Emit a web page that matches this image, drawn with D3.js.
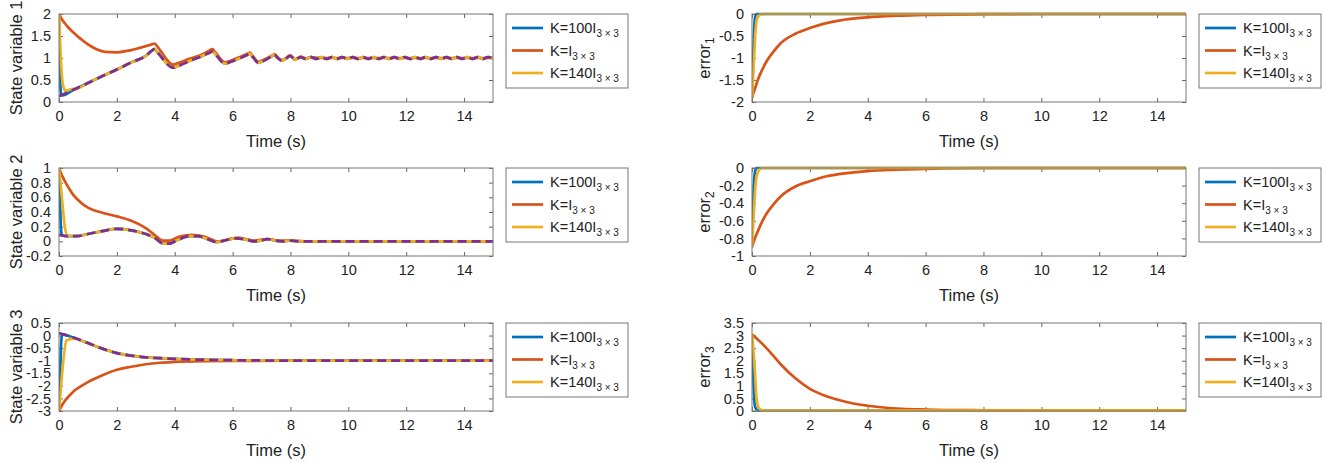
<!DOCTYPE html>
<html>
<head>
<meta charset="utf-8">
<script src="https://cdn.jsdelivr.net/npm/d3@7"></script>
<style>
  body { margin: 0; background: #fff; }
  text { font-family: "Liberation Sans", Arial, sans-serif; fill: #222; }
</style>
</head>
<body>
<div id="chart"></div>
<script>
(function() {
	// time axis
	var xTicks = [0, 2, 4, 6, 8, 10, 12, 14];
	var legendNames = ["K=100I", "K=I", "K=140I"];
	var legendSub = "3 \u00d7 3";

	// ---- state variable 1 ----
	var ref1 = [[0,0.13],[0.5,0.28],[1,0.43],[1.5,0.59],[2,0.74],[2.5,0.9],[3,1.05],[3.2,1.16],[3.3,1.2],[3.4,1.13],[3.95,0.78],[4.05,0.8],[4.5,0.93],[5,1.06],[5.2,1.12],[5.3,1.15],[5.4,1.09],[5.75,0.87],[5.85,0.89],[6.2,0.98],[6.5,1.07],[6.6,1.1],[6.68,1.04],[6.9,0.89],[6.98,0.91],[7.4,1.06],[7.45,1.08],[7.52,1.03],[7.7,0.94],[7.78,0.96],[8,1.05],[8.15,0.96],[8.35,1.02],[8.53,0.98],[8.71,1.02],[8.89,0.98],[9.07,1.02],[9.25,0.98],[9.43,1.02],[9.61,0.98],[9.79,1.02],[9.97,0.98],[10.15,1.02],[10.33,0.98],[10.51,1.02],[10.69,0.98],[10.87,1.02],[11.05,0.98],[11.23,1.02],[11.41,0.98],[11.59,1.02],[11.77,0.98],[11.95,1.02],[12.13,0.98],[12.31,1.02],[12.49,0.98],[12.67,1.02],[12.85,0.98],[13.03,1.02],[13.21,0.98],[13.39,1.02],[13.57,0.98],[13.75,1.02],[13.93,0.98],[14.11,1.02],[14.29,0.98],[14.47,1.02],[14.65,0.98],[14.83,1.02],[15,0.99]];
	var k100_1 = [[0,2],[0.02,1.1],[0.05,0.35],[0.08,0.16],[0.12,0.15],[0.5,0.28]];
	var kI_1 = [[0,2],[0.1,1.88],[0.2,1.79],[0.3,1.71],[0.5,1.58],[0.65,1.49],[0.8,1.41],[1,1.31],[1.15,1.25],[1.3,1.2],[1.6,1.14],[2,1.13],[2.5,1.18],[3,1.27],[3.2,1.31],[3.3,1.33],[3.4,1.26],[3.95,0.85],[4.05,0.87],[4.5,0.98],[5,1.1],[5.2,1.17],[5.3,1.2],[5.4,1.13],[5.75,0.9],[5.85,0.92],[6.2,1.01],[6.5,1.09],[6.6,1.12],[6.68,1.06],[6.9,0.91],[6.98,0.93],[7.4,1.07],[7.45,1.09],[7.52,1.04],[7.7,0.95],[7.78,0.97],[8,1.06],[8.15,0.97],[8.35,1.03],[8.53,0.99],[8.71,1.02],[9,1],[15,1]];
	var k140_1 = [[0,2],[0.05,1.2],[0.1,0.6],[0.15,0.35],[0.22,0.26],[0.5,0.3]];

	// ---- state variable 2 ----
	var ref2 = [[0,0.09],[0.3,0.07],[0.6,0.07],[1,0.1],[1.5,0.14],[2,0.17],[2.5,0.15],[3,0.1],[3.3,0.05],[3.6,-0.03],[3.8,-0.03],[4.1,0.02],[4.5,0.07],[4.8,0.07],[5.2,0.02],[5.45,-0.01],[5.7,0.01],[6.1,0.04],[6.4,0.03],[6.75,0],[6.95,0.01],[7.2,0.03],[7.5,0.01],[7.7,0],[8,0.01],[8.3,0],[15,0]];
	var k100_2 = [[0,1],[0.04,0.45],[0.08,0.12],[0.12,0.08],[0.3,0.07]];
	var kI_2 = [[0,1],[0.1,0.9],[0.2,0.82],[0.35,0.72],[0.5,0.63],[0.75,0.53],[1,0.46],[1.5,0.39],[2,0.34],[2.5,0.28],[3,0.18],[3.3,0.09],[3.6,0.01],[3.8,0.01],[4.2,0.07],[4.6,0.09],[5,0.07],[5.5,0],[6,0.04],[6.2,0.05],[6.7,0.01],[7.2,0.03],[7.6,0.01],[8,0.01],[8.5,0],[15,0]];
	var k140_2 = [[0,1],[0.1,0.6],[0.2,0.2],[0.3,0.08],[0.6,0.07]];

	// ---- state variable 3 ----
	var ref3 = [[0,0.1],[0.5,-0.08],[1,-0.3],[1.5,-0.52],[2,-0.7],[2.5,-0.8],[3,-0.87],[3.5,-0.9],[4,-0.93],[5,-0.96],[6,-0.98],[7,-0.99],[8,-1],[15,-1]];
	var k100_3 = [[0,-3],[0.04,-1.5],[0.08,-0.2],[0.11,0.05],[0.5,-0.08]];
	var kI_3 = [[0,-3],[0.1,-2.78],[0.2,-2.6],[0.35,-2.4],[0.5,-2.22],[0.75,-2.02],[1,-1.85],[1.5,-1.58],[2,-1.36],[2.5,-1.24],[3,-1.14],[3.5,-1.08],[4,-1.05],[5,-1.02],[6,-1.01],[8,-1],[15,-1]];
	var k140_3 = [[0,-3],[0.1,-1.6],[0.2,-0.5],[0.25,-0.2],[0.5,-0.12],[1,-0.3]];

	// ---- errors ----
	var k100_e1 = [[0,-1.9],[0.05,-0.8],[0.1,-0.1],[0.15,0],[15,0]];
	var kI_e1 = [[0,-1.9],[0.1,-1.7],[0.2,-1.5],[0.35,-1.27],[0.5,-1.08],[0.75,-0.85],[1,-0.66],[1.5,-0.45],[2,-0.32],[2.5,-0.22],[3,-0.15],[4,-0.075],[5,-0.04],[6,-0.02],[8,-0.005],[10,0],[15,0]];
	var k140_e1 = [[0,-1.9],[0.05,-1.3],[0.12,-0.4],[0.18,-0.1],[0.3,-0.01],[0.45,0],[15,0]];

	var k100_e2 = [[0,-0.9],[0.04,-0.4],[0.1,-0.05],[0.15,0],[15,0]];
	var kI_e2 = [[0,-0.9],[0.1,-0.8],[0.2,-0.72],[0.35,-0.61],[0.5,-0.52],[0.75,-0.41],[1,-0.32],[1.5,-0.21],[2,-0.15],[2.5,-0.1],[3,-0.07],[4,-0.035],[5,-0.02],[6,-0.01],[8,0],[15,0]];
	var k140_e2 = [[0,-0.9],[0.05,-0.6],[0.12,-0.2],[0.2,-0.05],[0.35,0],[15,0]];

	var k100_e3 = [[0,3.05],[0.04,1.5],[0.1,0.2],[0.2,0.02],[15,0.02]];
	var kI_e3 = [[0,3.05],[0.1,2.95],[0.2,2.84],[0.35,2.68],[0.5,2.5],[0.75,2.18],[1,1.85],[1.5,1.3],[2,0.88],[2.5,0.62],[3,0.44],[3.5,0.3],[4,0.21],[5,0.1],[6,0.06],[8,0.03],[10,0.02],[15,0.02]];
	var k140_e3 = [[0,3.05],[0.08,2],[0.15,0.6],[0.22,0.15],[0.35,0.03],[0.5,0.02],[15,0.02]];

	var yTicks1 = [0, 0.5, 1, 1.5, 2];
	var yTicks2 = [-0.2, 0, 0.2, 0.4, 0.6, 0.8, 1];
	var yTicks3 = [-3, -2.5, -2, -1.5, -1, -0.5, 0, 0.5];
	var yTicksE1 = [-2, -1.5, -1, -0.5, 0];
	var yTicksE2 = [-1, -0.8, -0.6, -0.4, -0.2, 0];
	var yTicksE3 = [0, 0.5, 1, 1.5, 2, 2.5, 3, 3.5];

	var colors = { k100: "#0072BD", kI: "#D95319", k140: "#EDB120", ref: "#7E2F8E" };

	var panels = [
		{ col: 0, row: 0, label: "State variable 1", ticks: yTicks1, lines: [k100_1.concat(ref1.slice(1)), kI_1, k140_1.concat(ref1.slice(1)), ref1] },
		{ col: 0, row: 1, label: "State variable 2", ticks: yTicks2, lines: [k100_2.concat(ref2.slice(1)), kI_2, k140_2.concat(ref2.slice(3)), ref2] },
		{ col: 0, row: 2, label: "State variable 3", ticks: yTicks3, lines: [k100_3.concat(ref3.slice(1)), kI_3, k140_3.concat(ref3.slice(2)), ref3] },
		{ col: 1, row: 0, label: "error", sub: "1", ticks: yTicksE1, lines: [k100_e1, kI_e1, k140_e1] },
		{ col: 1, row: 1, label: "error", sub: "2", ticks: yTicksE2, lines: [k100_e2, kI_e2, k140_e2] },
		{ col: 1, row: 2, label: "error", sub: "3", ticks: yTicksE3, lines: [k100_e3, kI_e3, k140_e3] }
	];
	var lineColors = [colors.k100, colors.kI, colors.k140, colors.ref];

	var plotLeft = [59, 752],
		plotWidth = 434,
		plotTop = [14, 168, 323],
		plotHeight = 88;

	var svg = d3.select("#chart")
				.append("svg")
				.attr("width", 1325)
				.attr("height", 463);

	panels.forEach(function(p, i) {
		var left = plotLeft[p.col], top = plotTop[p.row];
		var g = svg.append("g").attr("transform", "translate(" + left + "," + top + ")");

		var xScale = d3.scaleLinear().domain([0, 15]).range([0, plotWidth]);
		var yScale = d3.scaleLinear().domain(d3.extent(p.ticks)).range([plotHeight, 0]);

		g.append("clipPath").attr("id", "clip" + i)
			.append("rect").attr("y", -2).attr("width", plotWidth).attr("height", plotHeight + 4);

		var fmt = function(d) { return String(d); };

		// axes, ticks pointing inward on all four sides
		var ax = [
			{ axis: d3.axisBottom(xScale).tickValues(xTicks).tickFormat(fmt).tickPadding(9), t: "translate(0," + plotHeight + ")" },
			{ axis: d3.axisTop(xScale).tickValues(xTicks).tickFormat(""), t: "translate(0,0)" },
			{ axis: d3.axisLeft(yScale).tickValues(p.ticks).tickFormat(fmt).tickPadding(8), t: "translate(0,0)" },
			{ axis: d3.axisRight(yScale).tickValues(p.ticks).tickFormat(""), t: "translate(" + plotWidth + ",0)" }
		];
		ax.forEach(function(a) {
			var ga = g.append("g").attr("transform", a.t)
				.call(a.axis.tickSizeInner(-4).tickSizeOuter(0));
			ga.select(".domain").remove();
			ga.selectAll("line").attr("stroke", "#666");
			ga.selectAll("text").attr("font-size", 14.5).attr("fill", "#222")
				.attr("font-family", "Liberation Sans, Arial, sans-serif");
		});

		var line = d3.line()
			.curve(d3.curveMonotoneX)
			.x(function(d) { return xScale(d[0]); })
			.y(function(d) { return yScale(d[1]); });

		g.append("g").attr("clip-path", "url(#clip" + i + ")")
			.selectAll("path")
			.data(p.lines)
			.enter()
			.append("path")
			.attr("d", line)
			.attr("fill", "none")
			.attr("stroke", function(d, j) { return lineColors[j]; })
			.attr("stroke-width", 2.7)
			.attr("stroke-dasharray", function(d, j) { return j == 3 ? "9,5" : null; })
			.attr("stroke-linejoin", "round");

		g.append("rect")
			.attr("width", plotWidth).attr("height", plotHeight)
			.attr("fill", "none").attr("stroke", "#777").attr("stroke-width", 1);

		// x label
		g.append("text")
			.attr("x", plotWidth / 2).attr("y", plotHeight + 45)
			.attr("text-anchor", "middle").attr("font-size", 16.5)
			.text("Time (s)");

		// y label
		var yl = g.append("text")
			.attr("transform", "translate(" + (p.col == 0 ? -37 : -42) + "," + plotHeight / 2 + ") rotate(-90)")
			.attr("text-anchor", "middle").attr("font-size", 16.5)
			.text(p.label);
		if (p.sub) {
			yl.append("tspan").attr("font-size", 12).attr("dy", 4).text(p.sub);
		}

		// legend
		var lg = g.append("g").attr("transform", "translate(" + (plotWidth + 13) + ",0)");
		lg.append("rect")
			.attr("width", 122).attr("height", 74)
			.attr("fill", "#fff").attr("stroke", "#777").attr("stroke-width", 1);
		legendNames.forEach(function(name, j) {
			var yy = 14 + j * 22.5;
			lg.append("line")
				.attr("x1", 6).attr("x2", 37).attr("y1", yy).attr("y2", yy)
				.attr("stroke", lineColors[j]).attr("stroke-width", 2.7);
			var tx = lg.append("text")
				.attr("x", 44).attr("y", yy + 5).attr("font-size", 14.5)
				.text(name);
			tx.append("tspan").attr("font-size", 10).attr("dy", 4).text(legendSub);
		});
	});
})();
</script>
</body>
</html>
